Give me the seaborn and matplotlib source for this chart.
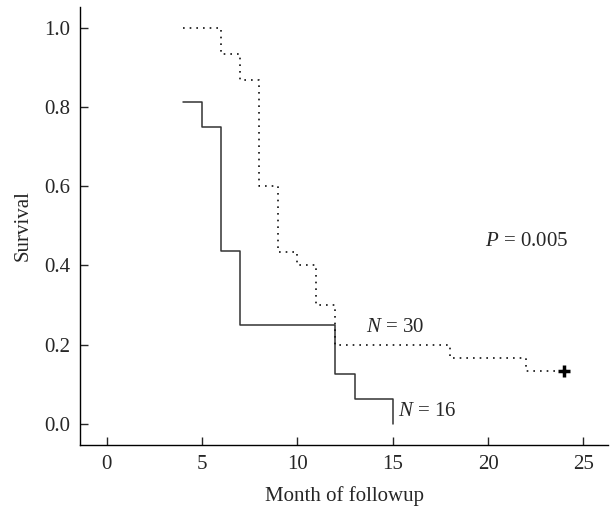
import pandas as pd
import seaborn as sns
import matplotlib.pyplot as plt

# Kaplan-Meier step curves
months_16 = [4, 5, 6, 7, 12, 13, 15]
surv_16 = [0.8125, 0.75, 0.4375, 0.25, 0.125, 0.0625, 0.0]

months_30 = [4, 6, 7, 8, 9, 10, 11, 12, 18, 22, 24]
surv_30 = [1.0, 0.933, 0.867, 0.6, 0.433, 0.4, 0.3, 0.2, 0.167, 0.133, 0.133]

censor_x = [24]
censor_y = [0.133]

x_ticks = [0, 5, 10, 15, 20, 25]
y_ticks = [0.0, 0.2, 0.4, 0.6, 0.8, 1.0]

df_16 = pd.DataFrame({'Month': months_16, 'Survival': surv_16})
df_30 = pd.DataFrame({'Month': months_30, 'Survival': surv_30})

sns.set_style("ticks")
plt.rcParams['font.family'] = ['Liberation Serif', 'DejaVu Serif']
plt.rcParams['mathtext.fontset'] = 'custom'
plt.rcParams['mathtext.it'] = 'Liberation Serif:italic'
plt.rcParams['mathtext.rm'] = 'Liberation Serif'

fig = plt.figure(figsize=(6.1, 5.09), dpi=100)
ax = fig.add_axes([0.131, 0.126, 0.866, 0.861])

sns.lineplot(data=df_16, x='Month', y='Survival', ax=ax, estimator=None, sort=False,
             drawstyle='steps-post', color='#333333', lw=1.1)
sns.lineplot(data=df_30, x='Month', y='Survival', ax=ax, estimator=None, sort=False,
             drawstyle='steps-post', color='#111111', lw=1.2, dashes=False,
             linestyle=(0, (1, 3)))
ax.plot(censor_x, censor_y, marker='+', color='black', markersize=9, mew=2.5, ls='none')

fs = 15
ax.text(13.6, 0.244, r'$N$ = 30', fontsize=fs, va='center', ha='left')
ax.text(15.3, 0.03, r'$N$ = 16', fontsize=fs, va='center', ha='left')
ax.text(19.84, 0.459, r'$P$ = 0.005', fontsize=fs, va='center', ha='left')

ax.set_xlim(-1.4, 26.3)
ax.set_ylim(-0.053, 1.053)
ax.set_xticks(x_ticks)
ax.set_yticks(y_ticks)
ax.set_yticklabels([f"{v:.1f}" for v in y_ticks])
ax.tick_params(direction='in', length=6, width=1, labelsize=fs, pad=7)
ax.set_xlabel("Month of followup", fontsize=fs, labelpad=9)
ax.set_ylabel("Survival", fontsize=fs, labelpad=8)
sns.despine(ax=ax)
for s in ['left', 'bottom']:
    ax.spines[s].set_linewidth(1.0)
    ax.spines[s].set_color('black')

fig.savefig("out.png", dpi=100)
